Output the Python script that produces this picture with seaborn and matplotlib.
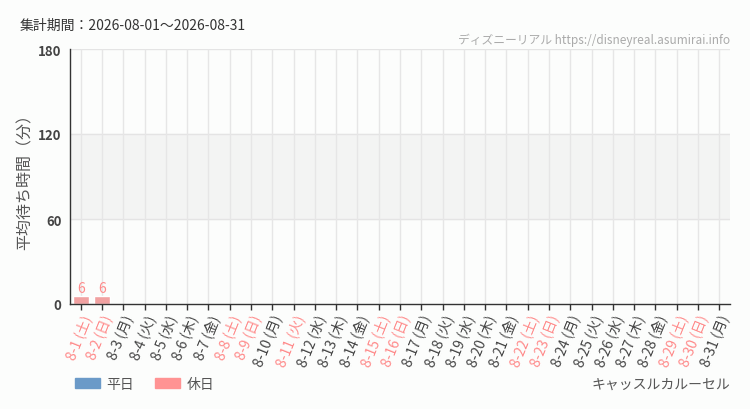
import matplotlib
matplotlib.use("Agg")
import matplotlib.pyplot as plt
from matplotlib.patches import Patch
import numpy as np
import pandas as pd
import seaborn as sns

days = list(range(1, 32))
weekdays = ["土", "日", "月", "火", "水", "木", "金"] * 5
weekdays = weekdays[:31]
holidays = [1, 2, 8, 9, 11, 15, 16, 22, 23, 29, 30]
waits = [6, 6] + [np.nan] * 29

labels = [f"8-{d} ({w})" for d, w in zip(days, weekdays)]
kind = ["休日" if d in holidays else "平日" for d in days]

df = pd.DataFrame({"label": labels, "wait": waits, "kind": kind})

sns.set_theme(style="white")
plt.rcParams["font.family"] = ["Noto Sans CJK JP", "DejaVu Sans"]

BLUE = "#6b9ac8"
PINK = "#ff9393"
PINK_TXT = "#ff8a8a"
DARK = "#444444"

fig = plt.figure(figsize=(7.5, 4.1), dpi=100)
fig.patch.set_facecolor("#fcfdfc")
ax = fig.add_axes([70 / 750, 1 - 305 / 410, 660 / 750, 255 / 410])
ax.set_facecolor("#fcfdfc")

sns.barplot(data=df, x="label", y="wait", hue="kind",
            palette={"平日": BLUE, "休日": PINK}, dodge=False,
            width=0.76, legend=False, ax=ax, order=labels)

for c in ax.containers:
    ax.bar_label(c, fmt="%.0f", color=PINK_TXT, fontsize=10, padding=0)

ax.set_ylim(0, 180)
ax.set_xlim(-0.5, 30.5)
ax.set_yticks([0, 60, 120, 180])
ax.axhspan(60, 120, color="#f3f4f3", zorder=0)
for y in [60, 120, 180]:
    ax.axhline(y, color="#e4e4e4", lw=1, zorder=0.5)
for i in range(len(labels)):
    ax.axvline(i, color="#e6e6e6", lw=1, zorder=0.5)

ax.tick_params(axis="y", length=4, width=1, color="#333333", labelsize=9.5,
               labelcolor=DARK, pad=2)
ax.tick_params(axis="x", length=4, width=1, color="#333333", labelsize=10, pad=2,
               bottom=True)
ax.set_xticks(range(len(labels)))
ax.set_xticklabels(labels, rotation=68, ha="right", rotation_mode="anchor")
for t, k in zip(ax.get_xticklabels(), kind):
    t.set_color(PINK_TXT if k == "休日" else DARK)
for t in ax.get_yticklabels():
    t.set_fontweight("bold")

ax.set_xlabel("")
ax.set_ylabel("平均待ち時間（分）", fontsize=11.5, color="#555555")
ax.yaxis.set_label_coords(-36 / 660, 0.5)
for s in ["top", "right"]:
    ax.spines[s].set_visible(False)
ax.spines["left"].set_color("#333333")
ax.spines["bottom"].set_color("#333333")
ax.spines["left"].set_linewidth(1)
ax.spines["bottom"].set_linewidth(1)

fig.text(20 / 750, 1 - 26 / 410, "集計期間：2026-08-01～2026-08-31",
         fontsize=10, color="#333333", va="center", ha="left")
fig.text(730 / 750, 1 - 40 / 410, "ディズニーリアル https://disneyreal.asumirai.info",
         fontsize=8.5, color="#aaaaaa", va="center", ha="right")
fig.text(730 / 750, 1 - 385 / 410, "キャッスルカルーセル",
         fontsize=10, color="#555555", va="center", ha="right")

handles = [Patch(color=BLUE, label="平日"), Patch(color=PINK, label="休日")]
fig.legend(handles=handles, loc="center left", bbox_to_anchor=(62 / 750, 1 - 385 / 410),
           ncol=2, frameon=False, fontsize=10, handlelength=1.8, handleheight=0.8,
           columnspacing=1.5, handletextpad=0.5, labelcolor="#555555")

fig.savefig("out.png", dpi=100, facecolor=fig.get_facecolor())
